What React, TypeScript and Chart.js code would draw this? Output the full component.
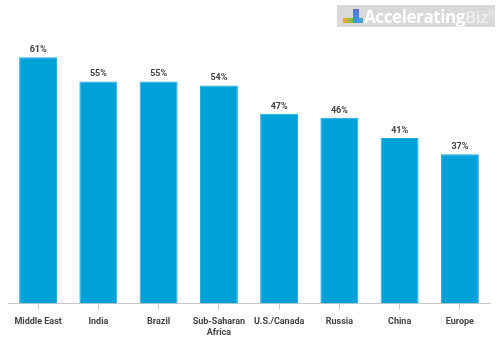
import React, { useEffect, useRef } from "react";
import { Chart, registerables } from "chart.js";

Chart.register(...registerables);

const categories: (string | string[])[] = [
  "Middle East",
  "India",
  "Brazil",
  ["Sub-Saharan", "Africa"],
  "U.S./Canada",
  "Russia",
  "China",
  "Europe",
];
const values: number[] = [61, 55, 55, 54, 47, 46, 41, 37];

const valueLabelPlugin = {
  id: "valueLabels",
  afterDatasetsDraw(chart: any) {
    const { ctx } = chart;
    const meta = chart.getDatasetMeta(0);
    ctx.save();
    ctx.fillStyle = "#444";
    ctx.font = "bold 9px Roboto, 'Noto Sans', sans-serif";
    ctx.textAlign = "center";
    ctx.textBaseline = "bottom";
    meta.data.forEach((bar: any, i: number) => {
      ctx.fillText(values[i] + "%", bar.x, bar.y - 3);
    });
    ctx.restore();
  },
};

export default function App() {
  const ref = useRef<HTMLCanvasElement>(null);
  useEffect(() => {
    if (!ref.current) return;
    const chart = new Chart(ref.current, {
      type: "bar",
      data: {
        labels: categories,
        datasets: [
          {
            data: values,
            backgroundColor: "#00a0d8",
            borderColor: "#1aa8de",
            borderWidth: 1,
            barPercentage: 0.63,
            categoryPercentage: 1,
          },
        ],
      },
      options: {
        animation: false,
        responsive: false,
        maintainAspectRatio: false,
        layout: { padding: { top: 21, left: 8, right: 10, bottom: 12 } },
        plugins: { legend: { display: false }, tooltip: { enabled: false } },
        scales: {
          y: { display: false, min: 0, max: 70 },
          x: {
            offset: true,
            grid: {
              offset: false,
              drawOnChartArea: false,
              drawTicks: true,
              tickLength: 6,
              color: "#c8c8c8",
            },
            border: { display: true, color: "#c8c8c8" },
            ticks: {
              color: "#444",
              padding: 7,
              maxRotation: 0,
              autoSkip: false,
              font: { family: "Roboto, 'Noto Sans', sans-serif", size: 9, weight: "bold" },
            },
          },
        },
      },
      plugins: [valueLabelPlugin],
    });
    return () => chart.destroy();
  }, []);

  return (
    <div style={{ position: "absolute", left: 0, top: 0, width: 500, height: 357, background: "#fff" }}>
      <canvas ref={ref} width={500} height={357} style={{ display: "block" }} />
      <div
        style={{
          position: "absolute",
          left: 337,
          top: 5,
          width: 158,
          height: 22,
          background: "#d9d9d9",
          display: "flex",
          alignItems: "center",
          fontFamily: "'Open Sans', Roboto, sans-serif",
          fontWeight: 700,
          fontSize: 17,
          color: "#fff",
          letterSpacing: -0.4,
        }}
      >
        <div style={{ width: 20, height: 14, marginLeft: 6, marginRight: 5, position: "relative" }}>
          <div style={{ position: "absolute", left: 0, bottom: 0, width: 20, height: 5, background: "linear-gradient(90deg,#f4a23a,#7dc243,#3aa0e0)" }} />
          <div style={{ position: "absolute", right: 0, bottom: 0, width: 6, height: 14, background: "linear-gradient(0deg,#3aa0e0,#5b6fd6)" }} />
        </div>
        <span>Accelerating</span>
        <span style={{ color: "#eeeeee", fontWeight: 600 }}>Biz</span>
        <span style={{ color: "#eeeeee", fontSize: 9, alignSelf: "flex-start", marginTop: 2 }}>®</span>
      </div>
    </div>
  );
}
